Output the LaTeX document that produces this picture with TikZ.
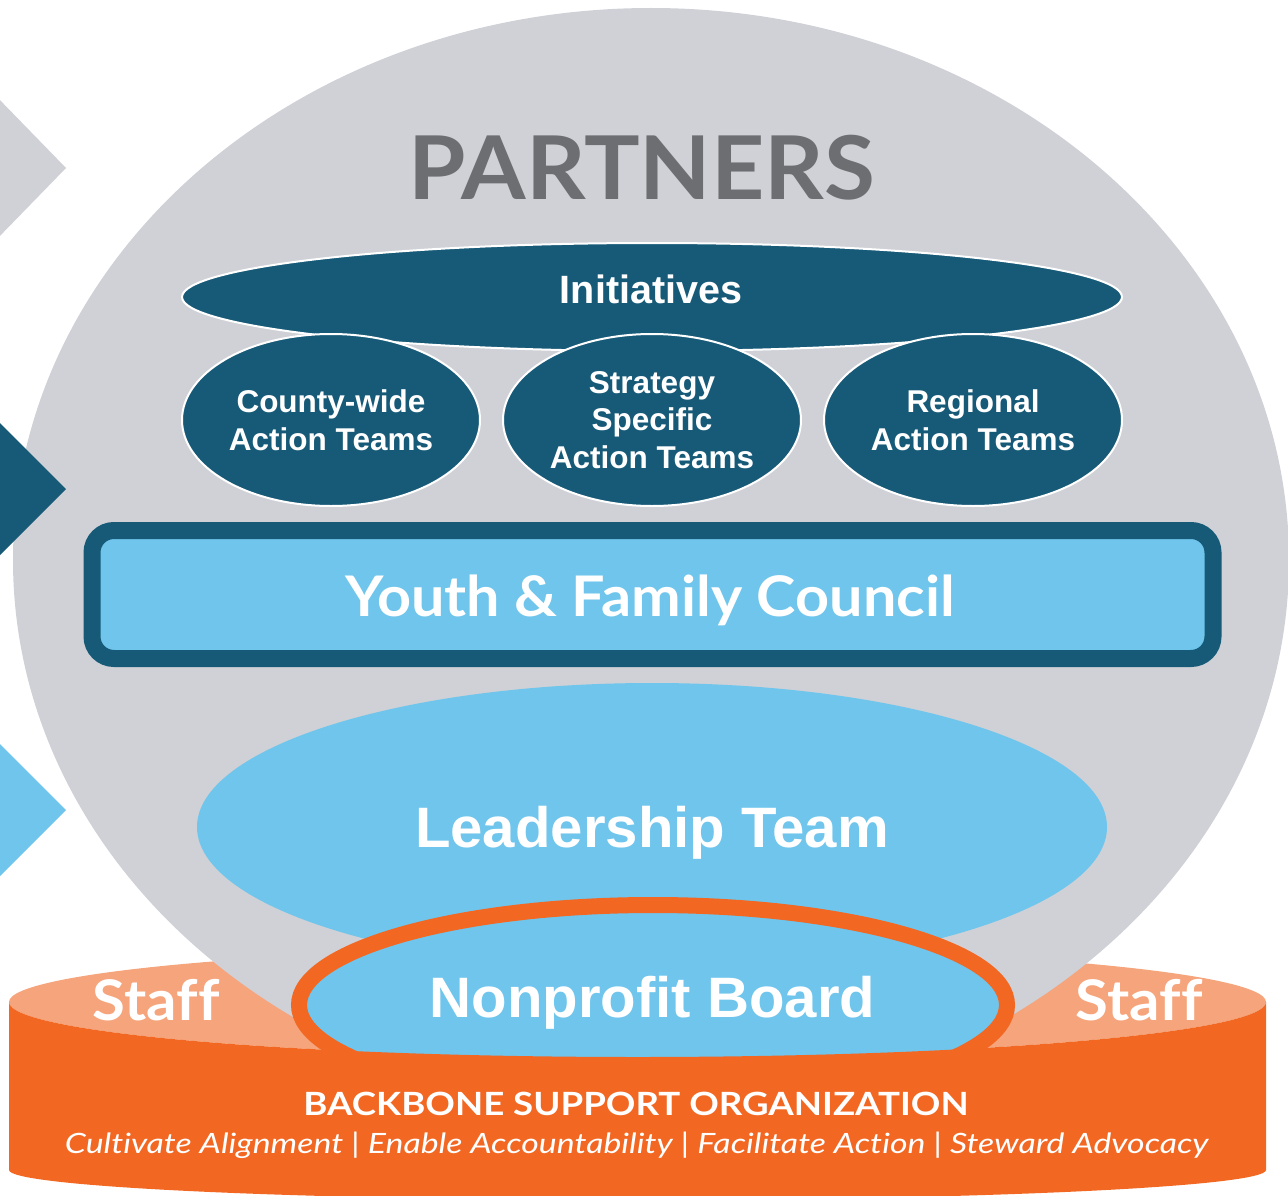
\documentclass[tikz,border=0pt]{standalone}
\usepackage{fontspec}
\usetikzlibrary{shapes.geometric}
\newfontfamily\arialf{Liberation Sans}
\newfontfamily\latof[Ligatures=NoCommon]{Lato}
\definecolor{greyc}{HTML}{D0D1D6}
\definecolor{tealc}{HTML}{175A78}
\definecolor{bluec}{HTML}{6FC5EC}
\definecolor{orangec}{HTML}{F26722}
\definecolor{lorangec}{HTML}{F5A47B}
\definecolor{textgrey}{HTML}{6D6E72}
\begin{document}
\begin{tikzpicture}[x=1pt,y=1pt,
  txt/.style={inner sep=0pt, anchor=base, text=white},
  team/.style={ellipse, draw=white, line width=2pt, fill=tealc, inner sep=0pt,
    minimum width=298pt, minimum height=172pt, text=white, align=center,
    font=\arialf\bfseries\fontsize{31.5}{37.5}\selectfont}]
\useasboundingbox (0,0) rectangle (1288,-1196);
\clip (0,0) rectangle (1288,-1196);
% top face of backbone cylinder
\fill[lorangec] (637.5,-1002) ellipse[x radius=628.5, y radius=55];
% partners
\node[ellipse, fill=greyc, inner sep=0pt, minimum width=1276pt, minimum height=1104pt] (partners) at (651,-560) {};
% side triangles
\fill[greyc] (-5,-95) -- (66,-168) -- (-5,-241) -- cycle;
\fill[tealc] (-5,-418) -- (66,-489) -- (-5,-560) -- cycle;
\fill[bluec] (-5,-739) -- (66,-810) -- (-5,-881) -- cycle;
\node[inner sep=0pt, anchor=base, text=textgrey, font=\latof\bfseries\fontsize{88}{88}\selectfont] (ptitle) at (642,-199) {\scalebox{1.055}[1]{PARTNERS}};
% initiatives
\node[ellipse, draw=white, line width=2pt, fill=tealc, inner sep=0pt, minimum width=940pt, minimum height=108pt] (init) at (652,-297) {};
\node[txt, font=\arialf\bfseries\fontsize{39.5}{39.5}\selectfont] (inittxt) at (651,-303) {Initiatives};
\node[team] (county) at (331,-420) {County-wide\\Action Teams};
\node[team] (strategy) at (652,-420) {Strategy\\Specific\\Action Teams};
\node[team] (regional) at (973,-420) {Regional\\Action Teams};
% youth council
\node[draw=tealc, line width=17pt, fill=bluec, rounded corners=22pt, inner sep=0pt, minimum width=1121pt, minimum height=128pt] (youth) at (652.5,-594.5) {};
\node[txt, font=\latof\bfseries\fontsize{56}{56}\selectfont] (youthtxt) at (650,-616) {\scalebox{1.059}[1]{Youth \& Family Council}};
% leadership
\node[ellipse, fill=bluec, inner sep=0pt, minimum width=910pt, minimum height=288pt] (lead) at (652,-827) {};
\node[txt, font=\arialf\bfseries\fontsize{57}{57}\selectfont] (leadtxt) at (652,-847) {\scalebox{1.02}[1]{Leadership Team}};
% board
\node[ellipse, fill=bluec, draw=orangec, line width=16pt, inner sep=0pt, minimum width=708pt, minimum height=200pt] (board) at (653,-1005) {};
% cylinder body
\fill[orangec] (9,-1002) arc[start angle=180, end angle=360, x radius=628.5, y radius=55]
  -- (1266,-1170) arc[start angle=0, end angle=-180, x radius=628.5, y radius=30] -- cycle;
\node[txt, font=\arialf\bfseries\fontsize{57}{57}\selectfont] (boardtxt) at (652.5,-1017) {\scalebox{1.02}[1]{Nonprofit Board}};
\node[txt, font=\latof\bfseries\fontsize{56}{56}\selectfont] (staffl) at (156,-1020) {\scalebox{1.07}[1]{Staff}};
\node[txt, font=\latof\bfseries\fontsize{56}{56}\selectfont] (staffr) at (1139,-1020) {\scalebox{1.07}[1]{Staff}};
\node[txt, font=\latof\bfseries\fontsize{32}{32}\selectfont] (backbone) at (636,-1115) {\scalebox{1.145}[1]{BACKBONE SUPPORT ORGANIZATION}};
\node[txt, font=\latof\itshape\fontsize{28}{28}\selectfont] (roles) at (636.5,-1153) {\scalebox{1.208}[1]{Cultivate Alignment | Enable Accountability | Facilitate Action | Steward Advocacy}};
\end{tikzpicture}
\end{document}
